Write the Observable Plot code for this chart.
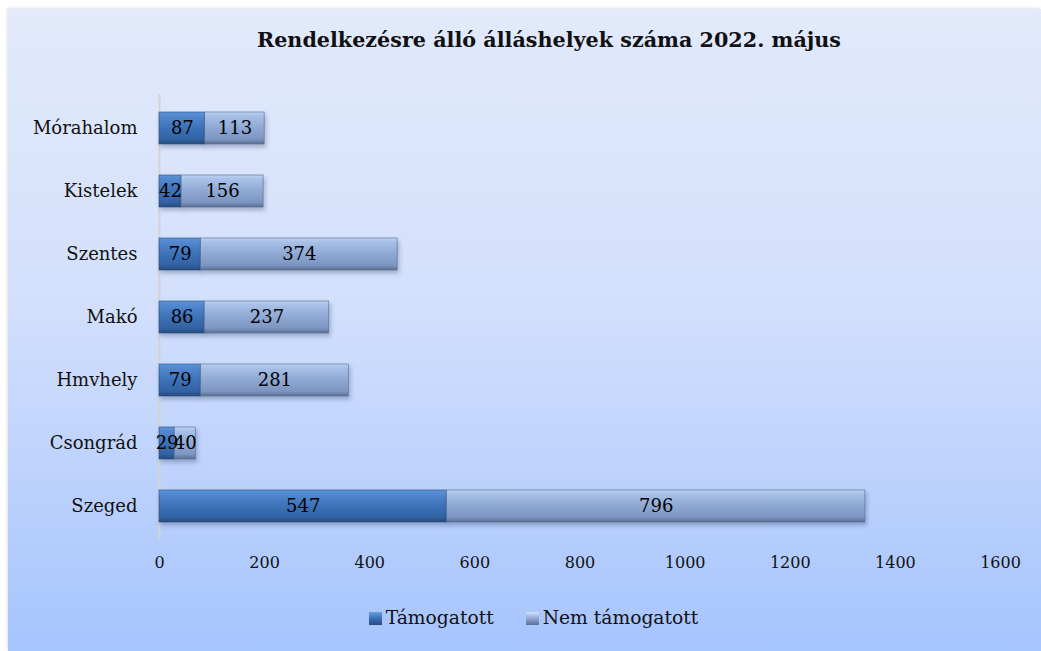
<!DOCTYPE html>
<html>
<head>
<meta charset="utf-8">
<script src="https://cdn.jsdelivr.net/npm/d3@7"></script>
<script src="https://cdn.jsdelivr.net/npm/@observablehq/plot@0.6"></script>
<style>
  html, body { margin: 0; padding: 0; background: #fff; width: 1041px; height: 651px; overflow: hidden; }
  #frame { position: absolute; left: 8px; top: 9px; width: 1033px; height: 642px;
    background: linear-gradient(to bottom, #e2eafb 0%, #d3e0fc 45%, #a6c4fd 100%);
    box-shadow: -1px -1px 3px rgba(0,0,0,0.12); }
  #title { position: absolute; left: 0; width: 1098px; top: 28px; text-align: center;
    font-family: "DejaVu Serif", serif; font-weight: bold; font-size: 20.7px; color: #111; }
  #chart { position: absolute; left: 0; top: 80px; }
  #legend { position: absolute; left: 17px; width: 1033px; top: 607px; text-align: center;
    font-family: "DejaVu Serif", serif; font-size: 18.7px; color: #111; }
  .sw { display: inline-block; width: 13px; height: 13px; margin-right: 4px; vertical-align: -1px; }
  .item { display: inline-block; margin: 0 13px; }
</style>
</head>
<body>
<div id="frame"></div>
<div id="title">Rendelkezésre álló álláshelyek száma 2022. május</div>
<div id="chart"></div>
<div id="legend">
  <span class="item"><span class="sw" style="background:linear-gradient(to bottom,#6a9fe0,#3a6fb5 50%,#284c7e)"></span>Támogatott</span>
  <span class="item"><span class="sw" style="background:linear-gradient(to bottom,#d2e2f8,#8fa8d3 50%,#5a6e90)"></span>Nem támogatott</span>
</div>
<script>
const categories = ["Mórahalom", "Kistelek", "Szentes", "Makó", "Hmvhely", "Csongrád", "Szeged"];
const tamogatott = [87, 42, 79, 86, 79, 29, 547];
const nemTamogatott = [113, 156, 374, 237, 281, 40, 796];
const xTicks = [0, 200, 400, 600, 800, 1000, 1200, 1400, 1600];
const seriesNames = ["Támogatott", "Nem támogatott"];

const rows = categories.map((c, i) => ({cat: c, a: tamogatott[i], b: nemTamogatott[i]}));

const font = "DejaVu Serif, serif";
const plot = Plot.plot({
  width: 1041,
  height: 500,
  marginLeft: 159,
  marginRight: 41,
  marginTop: 14,
  marginBottom: 41,
  style: {background: "transparent", fontFamily: font, fontSize: "18px", color: "#111", overflow: "visible"},
  x: {domain: [0, 1600], ticks: xTicks, label: null, tickSize: 0, tickPadding: 18},
  y: {domain: categories, label: null, paddingInner: 0.5, paddingOuter: 0.25, tickSize: 0, tickPadding: 22},
  marks: [
    Plot.ruleX([0], {stroke: "#d6d3cc", strokeWidth: 2}),
    Plot.barX(rows, {y: "cat", x1: 0, x2: "a", fill: "url(#gA)", stroke: "#2b4c7c", strokeWidth: 0.6}),
    Plot.barX(rows, {y: "cat", x1: "a", x2: d => d.a + d.b, fill: "url(#gB)", stroke: "#56698c", strokeWidth: 0.6}),
    Plot.text(rows, {y: "cat", x: d => d.a / 2, text: d => String(d.a), fontSize: 18, fill: "#000"}),
    Plot.text(rows, {y: "cat", x: d => d.a + d.b / 2, text: d => String(d.b), fontSize: 18, fill: "#000"}),
    Plot.axisX({ticks: xTicks, tickSize: 0, tickPadding: 17, fontSize: 16, label: null, tickFormat: d => String(d)}),
    Plot.axisY({tickSize: 0, tickPadding: 22, fontSize: 18, label: null})
  ]
});

const svgNS = "http://www.w3.org/2000/svg";
const defs = document.createElementNS(svgNS, "defs");
defs.innerHTML = `
  <linearGradient id="gA" x1="0" y1="0" x2="0" y2="1">
    <stop offset="0" stop-color="#5d95da"/>
    <stop offset="0.12" stop-color="#5289d0"/>
    <stop offset="0.5" stop-color="#3c72b8"/>
    <stop offset="0.85" stop-color="#3262a4"/>
    <stop offset="1" stop-color="#274b7c"/>
  </linearGradient>
  <linearGradient id="gB" x1="0" y1="0" x2="0" y2="1">
    <stop offset="0" stop-color="#bcd3f3"/>
    <stop offset="0.12" stop-color="#a9c1e8"/>
    <stop offset="0.5" stop-color="#8ea8d3"/>
    <stop offset="0.85" stop-color="#7d95c1"/>
    <stop offset="1" stop-color="#5a6e92"/>
  </linearGradient>
  <filter id="sh" x="-10%" y="-30%" width="130%" height="180%">
    <feDropShadow dx="1.5" dy="3" stdDeviation="2" flood-color="#1a2a50" flood-opacity="0.3"/>
  </filter>`;
plot.insertBefore(defs, plot.firstChild);
plot.querySelectorAll("g[aria-label='bar']").forEach(g => g.setAttribute("filter", "url(#sh)"));
document.getElementById("chart").appendChild(plot);
</script>
</body>
</html>
